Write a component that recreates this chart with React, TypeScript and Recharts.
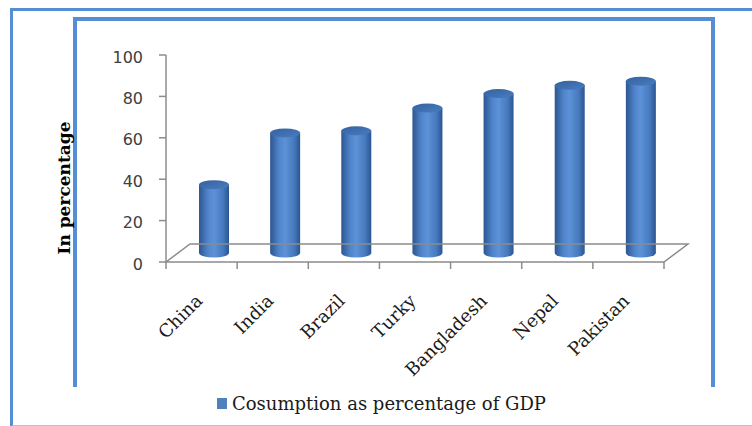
import { BarChart, Bar, XAxis, YAxis, ReferenceLine } from "recharts";

const countries = ["China", "India", "Brazil", "Turky", "Bangladesh", "Nepal", "Pakistan"];
const consumption = [33, 58, 59, 70, 77, 81, 83];
const yTicks = [0, 20, 40, 60, 80, 100];

const data = countries.map((country, i) => ({ country, value: consumption[i] }));

const FRAME_BLUE = "#558ed5";
const AXIS_GREY = "#8c8c8c";
const SERIF = "'DejaVu Serif', serif";

// pseudo-3D depth of the floor (shift to the back plane)
const DEPTH_X = 24;
const DEPTH_Y = 18;

function Cylinder(props: any) {
  const { x, y, width, height } = props;
  const rx = width / 2;
  const ry = 4.5;
  const cx = x + rx + DEPTH_X / 2;
  const top = y - DEPTH_Y / 2;
  const bottom = y + height - DEPTH_Y / 2;
  const body = `M${cx - rx},${top} L${cx - rx},${bottom} A${rx},${ry} 0 0 0 ${cx + rx},${bottom} L${cx + rx},${top} Z`;
  return (
    <g>
      <path d={body} fill="url(#cylBody)" />
      <ellipse cx={cx} cy={top} rx={rx} ry={ry} fill="url(#cylTop)" />
    </g>
  );
}

function Floor(props: any) {
  const { x1, x2, y1 } = props;
  const n = countries.length;
  const step = (x2 - x1) / n;
  const ticks = [];
  for (let i = 0; i <= n; i++) {
    const tx = x1 + i * step;
    ticks.push(<line key={i} x1={tx} y1={y1} x2={tx} y2={y1 + 7} stroke={AXIS_GREY} strokeWidth={1.5} />);
  }
  const pts = [
    [x1, y1],
    [x2, y1],
    [x2 + DEPTH_X, y1 - DEPTH_Y],
    [x1 + DEPTH_X, y1 - DEPTH_Y],
  ];
  return (
    <g>
      <polygon points={pts.map((p) => p.join(",")).join(" ")} fill="none" stroke={AXIS_GREY} strokeWidth={1.5} />
      {ticks}
    </g>
  );
}

function CountryTick(props: any) {
  const { x, y, payload } = props;
  const ax = x + 2;
  const ay = y + 32;
  return (
    <text
      x={ax}
      y={ay}
      textAnchor="end"
      transform={`rotate(-45, ${ax}, ${ay})`}
      fontFamily={SERIF}
      fontSize={18}
      fill="#1a1a1a"
    >
      {payload.value}
    </text>
  );
}

export default function App() {
  return (
    <div style={{ position: "fixed", left: 0, top: 0, width: 752, height: 426, overflow: "hidden", background: "#fff" }}>
      {/* outer frame, runs off the right edge */}
      <div
        style={{
          position: "absolute", left: 10, top: 8, width: 800, height: 414,
          borderLeft: `3px solid ${FRAME_BLUE}`, borderTop: `3px solid ${FRAME_BLUE}`,
          borderBottom: "2px solid #a9c3ea",
        }}
      />
      {/* inner frame, open at the bottom */}
      <div
        style={{
          position: "absolute", left: 73, top: 17, width: 634, height: 366,
          borderLeft: `4px solid ${FRAME_BLUE}`, borderTop: `4px solid ${FRAME_BLUE}`,
          borderRight: `4px solid ${FRAME_BLUE}`,
        }}
      />

      <div style={{ position: "absolute", left: 0, top: 0 }}>
        <BarChart width={752} height={426} data={data} margin={{ top: 55, right: 88, left: 0, bottom: 104 }}>
          <defs>
            <linearGradient id="cylBody" x1="0" y1="0" x2="1" y2="0">
              <stop offset="0%" stopColor="#2c5690" />
              <stop offset="30%" stopColor="#5085cb" />
              <stop offset="50%" stopColor="#5d92d8" />
              <stop offset="80%" stopColor="#4679bd" />
              <stop offset="100%" stopColor="#2b5590" />
            </linearGradient>
            <linearGradient id="cylTop" x1="0" y1="0" x2="1" y2="1">
              <stop offset="0%" stopColor="#34629f" />
              <stop offset="100%" stopColor="#4a7cc0" />
            </linearGradient>
          </defs>
          <ReferenceLine y={0} shape={(p: any) => <Floor {...p} />} />
          <XAxis
            dataKey="country"
            height={60}
            axisLine={false}
            tickLine={false}
            interval={0}
            tick={<CountryTick />}
          />
          <YAxis
            width={166}
            domain={[0, 100]}
            ticks={yTicks}
            axisLine={{ stroke: AXIS_GREY, strokeWidth: 1.5 }}
            tickLine={{ stroke: AXIS_GREY, strokeWidth: 1.5 }}
            tickSize={7}
            tickMargin={16}
            tick={{ fontFamily: "'DejaVu Sans', sans-serif", fontSize: 16, fill: "#404040", dy: 2 }}
          />
          <Bar dataKey="value" barSize={30} shape={<Cylinder />} isAnimationActive={false} />
        </BarChart>
      </div>

      {/* value axis title */}
      <div
        style={{
          position: "absolute", left: 64, top: 188, transform: "translate(-50%, -50%) rotate(-90deg)",
          whiteSpace: "nowrap", fontFamily: SERIF, fontWeight: "bold", fontSize: 17, color: "#000",
        }}
      >
        In percentage
      </div>

      {/* legend */}
      <div
        style={{
          position: "absolute", left: 217, top: 393, display: "flex", alignItems: "center",
          fontFamily: SERIF, fontSize: 18, color: "#1a1a1a", whiteSpace: "nowrap",
        }}
      >
        <span style={{ display: "inline-block", width: 10, height: 11, background: "#4f81bd", marginRight: 5 }} />
        Cosumption as percentage of GDP
      </div>
    </div>
  );
}
